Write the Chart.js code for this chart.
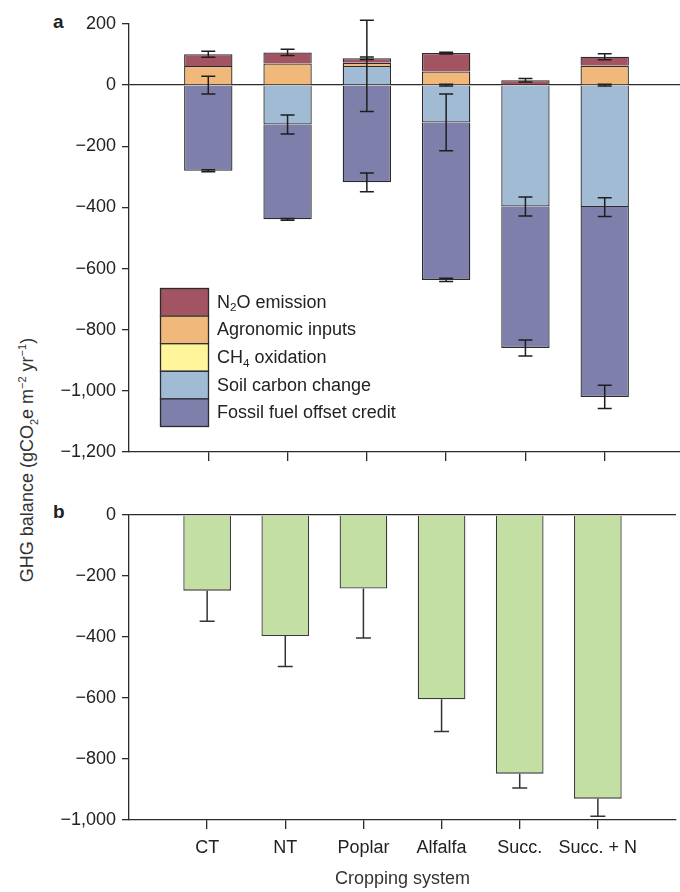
<!DOCTYPE html>
<html>
<head>
<meta charset="utf-8">
<script src="https://cdn.jsdelivr.net/npm/chart.js@4.4.0/dist/chart.umd.min.js"></script>
<style>
  body { margin: 0; width: 680px; height: 892px; overflow: hidden; background: #fff; position: relative;
         font-family: "Liberation Sans", Arial, sans-serif; color: #222; }
  #wrapA { position: absolute; left: 0; top: 0; }
  #wrapB { position: absolute; left: 0; top: 495px; }
  .panel { position: absolute; font-weight: bold; font-size: 19px; line-height: 19px; }
  #ytitle { position: absolute; left: 27px; top: 460px; transform: translate(-50%, -50%) rotate(-90deg);
            white-space: nowrap; font-size: 18px; line-height: 20px; color: #333; }
  #ytitle sub, #ytitle sup { font-size: 11px; line-height: 0; }
</style>
</head>
<body>
<div class="panel" style="left:53px;top:12px">a</div>
<div class="panel" style="left:53px;top:502px">b</div>
<div id="ytitle">GHG balance (gCO<sub>2</sub>e m<sup>−2</sup> yr<sup>−1</sup>)</div>
<div id="wrapA"><canvas id="chartA" width="684" height="470"></canvas></div>
<div id="wrapB"><canvas id="chartB" width="684" height="397"></canvas></div>

<script>
// --- Data ---
const categories = ['CT', 'NT', 'Poplar', 'Alfalfa', 'Succ.', 'Succ. + N'];

// panel a: stacked components, gCO2e m-2 yr-1
const ch4Oxidation   = [0, 0, 0, 0, -3, 0];
const soilCarbon     = [0, -129, 63, -122, -394, -399];
const fossilOffset   = [-280, -310, -318, -515, -463, -621];
const agronomic      = [63, 71, 10, 45, 2, 64];
const n2oEmission    = [38, 36, 15, 60, 14, 29];

// error bars, drawn at the end of each segment
const ch4Err    = [null, null, null, 3, null, 3];
const soilErr   = [29, 31, 149, 93, 31, 31];
const fossilErr = [3, 3, 31, 5, 26, 38];
const n2oErr    = [10, 10, 4, 3, 6, 10];

// panel b: net balance
const netBalance = [-248, -397, -241, -604, -848, -930];
const netErr     = [100, 100, 162, 106, 47, 58];

const ticksA = { min: -1200, max: 200, step: 200 };
const ticksB = { min: -1000, max: 0, step: 200 };

// --- Styling ---
const FONT = '"Liberation Sans", Arial, sans-serif';
const INK = '#2b2b2b';
const colors = {
    n2o: '#a35463',
    agro: '#f0b97b',
    ch4: '#fff59b',
    soil: '#a1bbd5',
    fossil: '#7e80ab',
    net: '#c3dfa4'
};

// blank slots either side so the bars sit where the figure has them
const paddedLabels = ['', ...categories, ''];
const pad = arr => [null, ...arr, null];

function fmtTick(v) {
    if (v === 0) return '0';
    const s = Math.abs(v).toLocaleString('en-US');
    return v < 0 ? '\u2212' + s : s;
}

// --- Plugins ---
const errorBars = {
    id: 'errorBars',
    afterDatasetsDraw(chart, args, opts) {
        const { ctx } = chart;
        const y = chart.scales.y;
        ctx.save();
        ctx.strokeStyle = opts.color || INK;
        ctx.lineWidth = opts.width || 1.4;
        chart.data.datasets.forEach((ds, di) => {
            if (!ds.errors) return;
            const meta = chart.getDatasetMeta(di);
            ds.errors.forEach((err, i) => {
                if (err == null) return;
                const el = meta.data[i];
                if (!el || isNaN(el.y)) return;
                const end = y.getValueForPixel(el.y);
                const lo = y.getPixelForValue(end - err);
                const hi = opts.downOnly ? el.y : y.getPixelForValue(end + err);
                const half = (opts.cap || 14) / 2;
                ctx.beginPath();
                ctx.moveTo(el.x, hi); ctx.lineTo(el.x, lo);
                ctx.moveTo(el.x - half, lo); ctx.lineTo(el.x + half, lo);
                if (!opts.downOnly) {
                    ctx.moveTo(el.x - half, hi); ctx.lineTo(el.x + half, hi);
                }
                ctx.stroke();
            });
        });
        ctx.restore();
    }
};

function drawParts(ctx, parts, x, y, size) {
    parts.forEach(p => {
        const s = p.sub ? size * 0.65 : size;
        ctx.font = `${s}px ${FONT}`;
        ctx.fillText(p.t, x, p.sub ? y + size * 0.3 : y);
        x += ctx.measureText(p.t).width;
    });
}

const legendItems = [
    { color: colors.n2o, parts: [{ t: 'N' }, { t: '2', sub: true }, { t: 'O emission' }] },
    { color: colors.agro, parts: [{ t: 'Agronomic inputs' }] },
    { color: colors.ch4, parts: [{ t: 'CH' }, { t: '4', sub: true }, { t: ' oxidation' }] },
    { color: colors.soil, parts: [{ t: 'Soil carbon change' }] },
    { color: colors.fossil, parts: [{ t: 'Fossil fuel offset credit' }] }
];

const stackLegend = {
    id: 'stackLegend',
    afterDraw(chart) {
        const { ctx } = chart;
        const x0 = 160, y0 = 288, w = 48, h = 27.6;
        ctx.save();
        legendItems.forEach((it, i) => {
            const yy = y0 + i * h;
            ctx.fillStyle = it.color;
            ctx.fillRect(x0, yy, w, h);
            ctx.strokeStyle = INK;
            ctx.lineWidth = 1.3;
            ctx.strokeRect(x0 + 0.5, yy + 0.5, w, h);
            ctx.fillStyle = '#222';
            ctx.textBaseline = 'middle';
            drawParts(ctx, it.parts, x0 + w + 9, yy + h / 2 + 1, 18);
        });
        ctx.restore();
    }
};

// --- Shared axis builders ---
function yAxis(t) {
    return {
        min: t.min, max: t.max,
        afterFit: s => { s.width = 129; },
        border: { color: INK, width: 1.3 },
        grid: {
            color: c => (c.tick && c.tick.value === 0) ? INK : 'transparent',
            lineWidth: 1.3,
            tickColor: INK,
            tickLength: 7
        },
        ticks: {
            stepSize: t.step,
            padding: 6,
            color: '#222',
            font: { family: FONT, size: 18 },
            callback: v => fmtTick(v)
        }
    };
}

function xAxis(height, showLabels) {
    const last = paddedLabels.length - 1;
    return {
        stacked: true,
        offset: false,
        afterFit: s => { s.height = height; },
        border: { color: INK, width: 1.3 },
        grid: {
            offset: false,
            drawOnChartArea: false,
            tickLength: 9,
            lineWidth: 1.3,
            tickColor: c => (c.index === 0 || c.index === last) ? 'transparent' : INK
        },
        ticks: {
            display: showLabels,
            autoSkip: false,
            maxRotation: 0,
            padding: 8,
            color: '#222',
            font: { family: FONT, size: 18 }
        }
    };
}

Chart.defaults.animation = false;

// --- Panel a ---
// skip the base edge so neighbouring segments share a single outline
const segBase = { borderColor: INK, borderWidth: 1.3, borderSkipped: 'start', barPercentage: 0.61, categoryPercentage: 1 };

new Chart(document.getElementById('chartA'), {
    type: 'bar',
    data: {
        labels: paddedLabels,
        datasets: [
            { ...segBase, label: 'CH\u2084 oxidation', data: pad(ch4Oxidation), errors: pad(ch4Err), backgroundColor: colors.ch4 },
            { ...segBase, label: 'Soil carbon change', data: pad(soilCarbon), errors: pad(soilErr), backgroundColor: colors.soil },
            { ...segBase, label: 'Fossil fuel offset credit', data: pad(fossilOffset), errors: pad(fossilErr), backgroundColor: colors.fossil },
            { ...segBase, label: 'Agronomic inputs', data: pad(agronomic), backgroundColor: colors.agro },
            { ...segBase, label: 'N\u2082O emission', data: pad(n2oEmission), errors: pad(n2oErr), backgroundColor: colors.n2o }
        ]
    },
    options: {
        responsive: false,
        layout: { padding: { top: 24, right: 0, left: 0, bottom: 0 } },
        plugins: {
            legend: { display: false },
            tooltip: { enabled: false },
            errorBars: { color: '#1e1e1e', width: 1.5, cap: 14 }
        },
        scales: {
            x: xAxis(18, false),
            y: { ...yAxis(ticksA), stacked: true }
        }
    },
    plugins: [errorBars, stackLegend]
});

// --- Panel b ---
new Chart(document.getElementById('chartB'), {
    type: 'bar',
    data: {
        labels: paddedLabels,
        datasets: [{
            label: 'GHG balance',
            data: pad(netBalance),
            errors: pad(netErr),
            backgroundColor: colors.net,
            borderColor: '#3a3a3a',
            borderWidth: 1.3,
            borderSkipped: 'start',
            barPercentage: 0.61,
            categoryPercentage: 1
        }]
    },
    options: {
        responsive: false,
        layout: { padding: { top: 20, right: 0, left: 0, bottom: 0 } },
        plugins: {
            legend: { display: false },
            tooltip: { enabled: false },
            errorBars: { color: '#333', width: 1.5, cap: 15, downOnly: true }
        },
        scales: {
            x: {
                ...xAxis(72, true),
                title: {
                    display: true,
                    text: 'Cropping system',
                    color: '#333',
                    font: { family: FONT, size: 18 },
                    padding: { top: 0, bottom: 2 }
                }
            },
            y: yAxis(ticksB)
        }
    },
    plugins: [errorBars]
});
</script>
</body>
</html>
